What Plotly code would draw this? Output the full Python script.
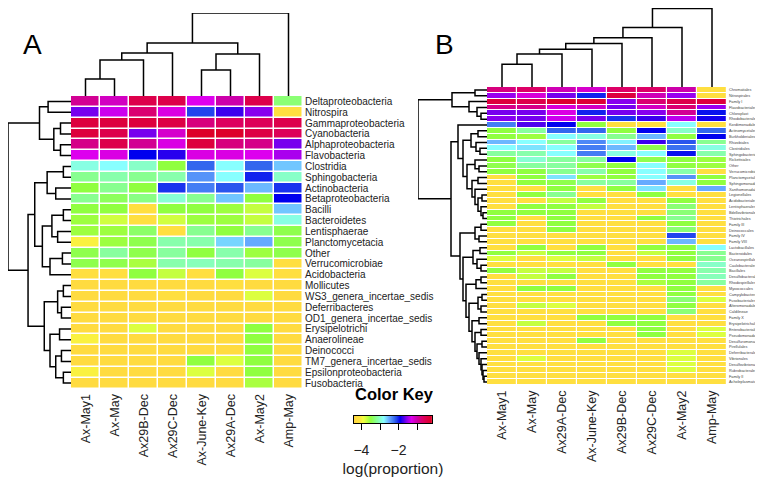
import numpy as np
import plotly.graph_objects as go

W, H = 763, 479
OFF = 8  # page body margin
def fx(px): return (px - OFF) / W
def fy(py): return 1 - (py - OFF) / H

ZMIN, ZMAX = -4.4, -0.2
FONT = "Liberation Sans, Arial, sans-serif"

# ---------------- Panel A data ----------------
cols_A = ["Ax-May1", "Ax-May", "Ax29B-Dec", "Ax29C-Dec", "Ax-June-Key", "Ax29A-Dec", "Ax-May2", "Amp-May"]
rows_A = ["Deltaproteobacteria", "Nitrospira", "Gammaproteobacteria", "Cyanobacteria", "Alphaproteobacteria",
          "Flavobacteria", "Clostridia", "Sphingobacteria", "Actinobacteria", "Betaproteobacteria", "Bacilli",
          "Bacteroidetes", "Lentisphaerae", "Planctomycetacia", "Other", "Verrucomicrobiae", "Acidobacteria",
          "Mollicutes", "WS3_genera_incertae_sedis", "Deferribacteres", "OD1_genera_incertae_sedis",
          "Erysipelotrichi", "Anaerolineae", "Deinococci", "TM7_genera_incertae_sedis", "Epsilonproteobacteria",
          "Fusobacteria"]
vals_A = [
    [-0.9, -1.1, -0.5, -0.5, -1.3, -1.0, -0.5, -3.3],
    [-1.6, -1.35, -0.75, -1.25, -2.1, -1.75, -1.55, -4.2],
    [-0.4, -0.4, -0.4, -0.45, -0.8, -0.65, -0.6, -0.5],
    [-0.4, -0.5, -1.6, -1.15, -0.25, -0.25, -0.45, -0.6],
    [-0.85, -0.5, -0.9, -1.25, -0.4, -0.8, -0.85, -1.6],
    [-1.3, -1.25, -1.9, -1.8, -1.25, -1.25, -1.3, -1.45],
    [-2.9, -2.8, -3.0, -3.5, -2.2, -2.8, -2.2, -2.6],
    [-3.2, -3.1, -3.2, -3.1, -2.4, -2.8, -2.0, -3.0],
    [-3.5, -3.2, -3.5, -2.05, -2.3, -2.15, -2.55, -2.05],
    [-3.2, -3.4, -3.25, -2.95, -3.2, -2.6, -3.5, -1.9],
    [-3.5, -3.5, -4.2, -3.5, -3.5, -3.55, -3.7, -2.6],
    [-3.55, -3.75, -4.2, -3.75, -3.55, -3.55, -3.7, -2.9],
    [-3.55, -3.55, -3.35, -4.2, -3.2, -3.5, -3.2, -3.45],
    [-4.0, -3.55, -3.45, -3.1, -3.1, -2.65, -2.5, -3.45],
    [-3.45, -3.15, -3.45, -3.15, -3.5, -3.1, -3.55, -3.45],
    [-3.45, -3.45, -3.6, -3.1, -3.05, -3.1, -3.15, -4.2],
    [-4.2, -4.2, -3.5, -3.7, -4.2, -3.5, -3.8, -4.2],
    [-4.3, -4.3, -4.3, -4.3, -4.3, -4.2, -4.3, -4.3],
    [-4.3, -4.3, -4.3, -4.2, -4.3, -4.3, -3.8, -4.3],
    [-4.3, -4.3, -4.3, -4.3, -4.3, -4.3, -4.3, -4.3],
    [-4.3, -4.3, -4.3, -4.3, -4.3, -4.3, -4.3, -4.3],
    [-4.3, -4.3, -3.8, -4.3, -4.3, -4.3, -3.5, -4.3],
    [-4.0, -4.3, -4.3, -4.3, -4.3, -4.3, -3.5, -4.3],
    [-4.3, -4.3, -4.3, -4.3, -4.3, -4.3, -3.5, -4.3],
    [-4.3, -4.3, -4.3, -4.3, -3.5, -3.8, -3.5, -4.3],
    [-4.0, -4.3, -4.3, -4.3, -3.8, -4.3, -3.5, -4.3],
    [-4.3, -4.3, -4.3, -4.3, -4.3, -4.3, -3.6, -4.3],
]
# dendrograms: (height, left, right), leaves = display index
coltree_A = (83, (53, (43, (36, (17, 0, 1), 2), 3), (42, (26, 4, 5), 6)), 7)
rowtree_A = (66,
             (33, (24, 0, 1), (18, (11, 2, 3), (11, 4, 5))),
             (45,
              (38, (25, (8, 6, 7), (16, 8, 9)), (30, (20, (8, 10, 11), (14, 12, 13)), (22, (9, 14, 15), 16))),
              (28, (14, (8, 17, 18), (10, 19, 20)), (22, (12, 21, 22), (16, (10, 23, 24), (8, 25, 26))))))

# ---------------- Panel B data ----------------
cols_B = ["Ax-May1", "Ax-May", "Ax29A-Dec", "Ax-June-Key", "Ax29B-Dec", "Ax29C-Dec", "Ax-May2", "Amp-May"]
rows_B = ["Chromatiales", "Nitrospirales", "Family I", "Flavobacteriales", "Chloroplast", "Rhodobacterales",
          "Kordiimonadales", "Actinomycetales", "Burkholderiales", "Rhizobiales", "Clostridiales",
          "Sphingobacteriales", "Rickettsiales", "Other", "Verrucomicrobiales", "Planctomycetales",
          "Sphingomonadales", "Xanthomonadales", "Legionellales", "Acidobacteriales", "Lentisphaerales",
          "Bdellovibrionales", "Thiotrichales", "Family III", "Deinococcales", "Family IV", "Family VIII",
          "Lactobacillales", "Bacteroidales", "Oceanospirillales", "Caulobacterales", "Bacillales",
          "Desulfobacterales", "Rhodospirillales", "Myxococcales", "Campylobacterales", "Fusobacteriales",
          "Alteromonadales", "Caldilineae", "Family X", "Erysipelotrichales", "Enterobacteriales",
          "Pseudomonadales", "Desulfuromonadales", "Pirellulales", "Deferribacterales", "Vibrionales",
          "Desulfovibrionales", "Rubrobacterales", "Family II", "Acholeplasmatales"]
vals_B = [
    [-0.8, -0.7, -1.05, -1.15, -0.7, -0.7, -1.0, -4.2],
    [-1.5, -1.2, -1.6, -2.0, -0.4, -1.05, -1.5, -4.2],
    [-0.4, -0.5, -0.3, -0.35, -1.55, -0.75, -0.5, -0.4],
    [-0.85, -0.85, -1.2, -1.1, -1.6, -1.1, -0.75, -1.5],
    [-1.6, -1.6, -1.25, -2.0, -1.6, -1.55, -0.9, -1.95],
    [-1.55, -1.6, -1.35, -1.6, -2.05, -1.75, -1.4, -1.85],
    [-2.3, -1.7, -1.9, -3.5, -4.2, -4.2, -2.8, -4.2],
    [-3.5, -3.15, -2.2, -2.2, -3.5, -1.9, -3.0, -2.2],
    [-3.5, -3.55, -2.8, -2.9, -3.2, -2.55, -3.5, -1.9],
    [-2.55, -2.8, -3.15, -2.35, -2.75, -1.75, -2.15, -3.2],
    [-2.8, -2.7, -2.8, -2.3, -2.55, -3.45, -2.25, -2.9],
    [-3.15, -3.1, -2.8, -2.3, -2.9, -2.8, -1.95, -3.1],
    [-3.5, -2.95, -3.15, -3.15, -1.9, -3.45, -3.5, -3.55],
    [-3.45, -3.15, -3.15, -3.45, -3.5, -2.8, -3.5, -3.55],
    [-3.5, -3.5, -3.2, -3.1, -3.5, -2.8, -3.1, -4.2],
    [-4.2, -3.5, -2.7, -3.55, -3.5, -2.8, -2.4, -3.5],
    [-4.2, -3.5, -3.45, -3.15, -3.15, -2.5, -2.9, -3.5],
    [-4.2, -4.2, -3.5, -4.2, -3.5, -2.7, -4.2, -2.5],
    [-4.2, -3.5, -3.2, -4.2, -4.2, -3.5, -4.2, -4.2],
    [-4.2, -4.2, -3.7, -3.5, -4.2, -4.2, -3.5, -4.2],
    [-4.2, -3.5, -3.5, -3.7, -4.2, -4.2, -3.3, -4.2],
    [-3.5, -3.5, -3.5, -4.2, -4.2, -4.2, -3.3, -4.2],
    [-3.5, -4.2, -3.5, -4.2, -4.2, -3.5, -3.2, -4.2],
    [-3.5, -4.2, -3.5, -4.2, -4.2, -4.2, -3.5, -4.2],
    [-4.2, -4.2, -3.5, -4.2, -4.2, -4.2, -3.3, -4.2],
    [-4.2, -4.2, -4.2, -4.2, -4.2, -4.2, -2.1, -4.2],
    [-4.2, -4.2, -4.2, -4.2, -4.2, -4.2, -2.55, -4.2],
    [-4.2, -3.5, -4.2, -3.5, -4.2, -3.5, -3.5, -2.8],
    [-3.5, -3.7, -3.5, -3.5, -4.2, -3.7, -3.5, -3.2],
    [-3.8, -4.2, -3.8, -3.7, -4.2, -4.2, -3.5, -3.2],
    [-4.2, -4.2, -4.2, -4.2, -3.5, -4.2, -4.2, -3.0],
    [-3.5, -3.7, -3.7, -4.2, -4.2, -3.5, -3.5, -3.1],
    [-4.2, -3.7, -3.5, -4.2, -4.2, -3.5, -3.5, -3.05],
    [-4.2, -4.2, -4.2, -4.2, -4.2, -3.6, -3.5, -3.15],
    [-4.2, -3.5, -3.5, -4.2, -4.2, -4.2, -3.5, -4.2],
    [-4.2, -4.2, -4.2, -4.2, -4.2, -4.2, -3.5, -4.2],
    [-4.2, -4.2, -4.2, -4.2, -4.2, -4.2, -3.3, -3.8],
    [-4.2, -3.7, -3.8, -4.2, -4.2, -4.2, -3.5, -4.2],
    [-4.2, -4.2, -4.2, -4.2, -4.2, -4.2, -3.3, -4.2],
    [-4.2, -4.2, -4.2, -3.5, -3.5, -3.5, -4.2, -4.2],
    [-4.2, -3.7, -4.2, -4.2, -3.5, -3.5, -4.2, -4.2],
    [-4.2, -4.2, -4.2, -4.2, -4.2, -3.5, -4.2, -3.8],
    [-4.2, -4.2, -4.2, -4.2, -4.2, -3.5, -4.2, -3.8],
    [-4.2, -4.2, -4.2, -3.5, -4.2, -4.2, -4.2, -4.2],
    [-4.2, -4.2, -4.2, -4.2, -4.2, -4.2, -4.2, -4.2],
    [-4.2, -4.2, -4.2, -4.2, -4.2, -4.2, -3.8, -4.2],
    [-4.2, -3.8, -4.2, -4.2, -4.2, -4.2, -3.8, -4.2],
    [-4.2, -4.2, -4.2, -4.2, -4.2, -4.2, -3.8, -4.2],
    [-4.2, -4.2, -4.2, -4.2, -4.2, -4.2, -3.8, -4.2],
    [-4.2, -4.2, -4.2, -4.2, -4.2, -4.2, -4.2, -4.2],
    [-4.2, -4.2, -4.2, -4.2, -4.2, -4.2, -4.2, -4.2],
]
coltree_B = (83, (63, (52, (46, (40, (35, (24, 0, 1), 2), 3), 4), 5), 6), 7)
rowtree_B = (69,
             (35, (12, 0, 1), (18, 2, (10, 3, (6, 4, 5)))),
             (36,
              (29, 6, (24, (16, (9, 7, 8), (11, 9, (7, 10, 11))),
                       (20, (12, 12, (8, 13, 14)),
                        (15, (9, 15, 16), (12, 17, (9, (5, 18, 19), (6, 20, (4, 21, 22)))))))),
              (27, (12, (6, 23, 24), (8, 25, 26)),
               (24, (14, (7, 27, 28), (10, 29, (6, 30, 31))),
                (21, (11, (6, 32, 33), 34),
                 (18, (9, (5, 35, 36), (6, 37, 38)),
                  (15, (8, 39, 40),
                   (12, (6, 41, 42),
                    (10, (5, 43, 44),
                     (8, 45, (6, 46, (5, 47, (4, 48, (3, 49, 50))))))))))))))

# ---------------- colour scale ----------------
anchors = [(-4.4, "#FFD640"), (-4.1, "#FFE440"), (-3.9, "#F4FF40"), (-3.7, "#C4FF40"), (-3.5, "#90FF40"),
           (-3.2, "#88FF90"), (-2.8, "#88FFFF"), (-2.5, "#66AAFF"), (-2.2, "#3366EE"), (-1.9, "#0000EE"),
           (-1.6, "#7700EE"), (-1.3, "#DD00EE"), (-1.0, "#CC00AA"), (-0.7, "#DD0066"), (-0.2, "#DD0022")]
cs = [[(v - ZMIN) / (ZMAX - ZMIN), c] for v, c in anchors]


def dendro(tree):
    xs, ys = [], []
    def rec(node):
        if isinstance(node, int):
            return float(node), 0.0
        h, l, r = node
        pl, hl = rec(l)
        pr, hr = rec(r)
        xs.extend([pl, pl, pr, pr, None])
        ys.extend([hl, h, h, hr, None])
        return (pl + pr) / 2, h
    rec(tree)
    return xs, ys


fig = go.Figure()
line = dict(color="black", width=1.5)

# Panel A
fig.add_trace(go.Heatmap(z=vals_A, x=list(range(len(cols_A))), y=list(range(len(rows_A))), colorscale=cs,
                         zmin=ZMIN, zmax=ZMAX, showscale=False, xgap=1.5, ygap=1.5, xaxis="x", yaxis="y",
                         hoverinfo="skip"))
dx, dy = dendro(coltree_A)
fig.add_trace(go.Scatter(x=dx, y=dy, mode="lines", line=line, xaxis="x2", yaxis="y2", hoverinfo="skip"))
dx, dy = dendro(rowtree_A)
fig.add_trace(go.Scatter(x=dy, y=dx, mode="lines", line=line, xaxis="x3", yaxis="y3", hoverinfo="skip"))

# Panel B
fig.add_trace(go.Heatmap(z=vals_B, x=list(range(len(cols_B))), y=list(range(len(rows_B))), colorscale=cs,
                         zmin=ZMIN, zmax=ZMAX, showscale=False, xgap=1.2, ygap=1, xaxis="x4", yaxis="y4",
                         hoverinfo="skip"))
dx, dy = dendro(coltree_B)
fig.add_trace(go.Scatter(x=dx, y=dy, mode="lines", line=line, xaxis="x5", yaxis="y5", hoverinfo="skip"))
dx, dy = dendro(rowtree_B)
fig.add_trace(go.Scatter(x=dy, y=dx, mode="lines", line=line, xaxis="x6", yaxis="y6", hoverinfo="skip"))

# Colour key
kx = np.linspace(ZMIN, ZMAX, 300)
fig.add_trace(go.Heatmap(z=[kx], x=kx, y=[0], colorscale=cs, zmin=ZMIN, zmax=ZMAX, showscale=False,
                         xaxis="x7", yaxis="y7", hoverinfo="skip"))

nA, nB = len(rows_A), len(rows_B)
hide = dict(showgrid=False, zeroline=False, showticklabels=False, ticks="", showline=False, automargin=False)
tf = dict(family=FONT, color="#222")

fig.update_layout(
    width=W, height=H, margin=dict(l=0, r=0, t=0, b=0, autoexpand=False), paper_bgcolor="white",
    plot_bgcolor="white", showlegend=False, font=dict(family=FONT),
    xaxis=dict(domain=[fx(71), fx(303)], range=[-0.5, 7.5], anchor="y", tickmode="array", automargin=False,
               tickvals=list(range(8)), ticktext=cols_A, tickangle=-90, ticks="", showgrid=False,
               zeroline=False, tickfont=dict(size=12.5, **tf), ticklabelstandoff=2),
    yaxis=dict(domain=[fy(388.5), fy(96)], range=[nA - 0.5, -0.5], anchor="x", side="right", automargin=False,
               tickmode="array", tickvals=list(range(nA)), ticktext=rows_A, ticks="", showgrid=False,
               zeroline=False, tickfont=dict(size=10, **tf), ticklabelstandoff=1),
    xaxis2=dict(domain=[fx(71), fx(303)], range=[-0.5, 7.5], anchor="y2", **hide),
    yaxis2=dict(domain=[fy(96), fy(13)], range=[0, 83], anchor="x2", **hide),
    xaxis3=dict(domain=[fx(8), fx(71)], range=[66, 0], anchor="y3", **hide),
    yaxis3=dict(domain=[fy(388.5), fy(96)], range=[nA - 0.5, -0.5], anchor="x3", **hide),
    xaxis4=dict(domain=[fx(487), fx(727)], range=[-0.5, 7.5], anchor="y4", tickmode="array", automargin=False,
                tickvals=list(range(8)), ticktext=cols_B, tickangle=-90, ticks="", showgrid=False,
                zeroline=False, tickfont=dict(size=12.5, **tf), ticklabelstandoff=2),
    yaxis4=dict(domain=[fy(385), fy(87)], range=[nB - 0.5, -0.5], anchor="x4", side="right", automargin=False,
                tickmode="array", tickvals=list(range(nB)), ticktext=rows_B, ticks="", showgrid=False,
                zeroline=False, tickfont=dict(size=3.8, family=FONT, color="#444"), ticklabelstandoff=1),
    xaxis5=dict(domain=[fx(487), fx(727)], range=[-0.5, 7.5], anchor="y5", **hide),
    yaxis5=dict(domain=[fy(87), fy(8)], range=[0, 83.5], anchor="x5", **hide),
    xaxis6=dict(domain=[fx(418), fx(487)], range=[69, 0], anchor="y6", **hide),
    yaxis6=dict(domain=[fy(385), fy(87)], range=[nB - 0.5, -0.5], anchor="x6", **hide),
    xaxis7=dict(domain=[fx(354), fx(432)], range=[ZMIN, ZMAX], anchor="y7", tickmode="array", automargin=False,
                tickvals=[-4, -3, -2, -1], ticktext=["\u22124", "", "\u22122", ""], ticks="outside",
                ticklen=6, tickwidth=1, tickcolor="black", showgrid=False, zeroline=False,
                showline=True, mirror=True, linecolor="black", linewidth=1,
                tickfont=dict(size=14, **tf), ticklabelstandoff=8,
                title=dict(text="log(proportion)", font=dict(size=15.5, **tf), standoff=6)),
    yaxis7=dict(domain=[fy(423), fy(416)], range=[-0.5, 0.5], anchor="x7", showline=True, mirror=True,
                automargin=False, linecolor="black", linewidth=1, showgrid=False, zeroline=False,
                showticklabels=False, ticks=""),
    annotations=[
        dict(text="A", x=fx(21), y=fy(27), xref="paper", yref="paper", showarrow=False,
             font=dict(size=28, family=FONT, color="black")),
        dict(text="B", x=fx(444), y=fy(27), xref="paper", yref="paper", showarrow=False,
             font=dict(size=28, family=FONT, color="black")),
        dict(text="<b>Color Key</b>", x=fx(394), y=fy(405), xref="paper", yref="paper", showarrow=False,
             font=dict(size=16.5, family=FONT, color="black")),
    ],
)

fig.write_html("out.html")
